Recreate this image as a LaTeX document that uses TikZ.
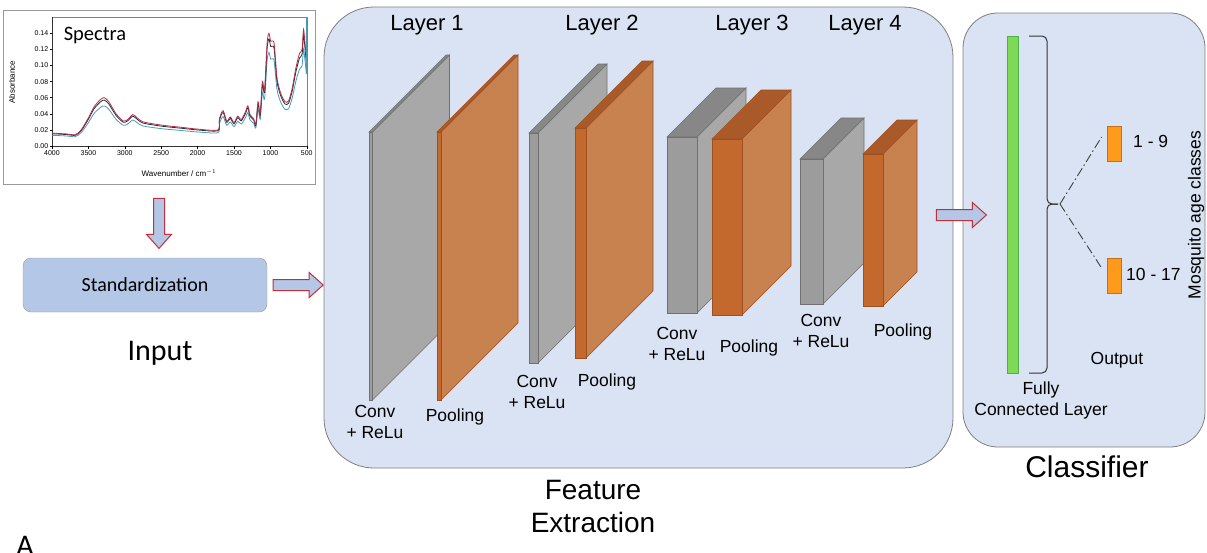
\documentclass[tikz,border=0pt]{standalone}
\usepackage{fontspec}
\setmainfont{Liberation Sans}
\newfontfamily\calib{Carlito}
\usepackage{tikz}
\usetikzlibrary{positioning,calc}
\definecolor{cFeat}{HTML}{DAE3F3}
\definecolor{cStd}{HTML}{B4C7E7}
\definecolor{cFrame}{HTML}{7F7F7F}
\definecolor{cArrow}{HTML}{C0303A}
\definecolor{greyside}{HTML}{A8A8A8}
\definecolor{greyfront}{HTML}{9C9C9C}
\definecolor{greytop}{HTML}{878787}
\definecolor{greyedge}{HTML}{707070}
\definecolor{orangeside}{HTML}{C8824F}
\definecolor{orangefront}{HTML}{C3692D}
\definecolor{orangetop}{HTML}{A95A28}
\definecolor{orangeedge}{HTML}{A0501E}
\definecolor{cGreen}{HTML}{7ED957}
\definecolor{cGreenD}{HTML}{4CAF50}
\definecolor{cOut}{HTML}{FF9A1A}
\definecolor{cOutD}{HTML}{C07020}
\definecolor{cSpRed}{HTML}{B03048}
\definecolor{cSpDark}{HTML}{2A2A35}
\definecolor{cSpBlue}{HTML}{4A9AB8}
\tikzset{
	bigbox/.style={draw=cFrame, fill=cFeat, line width=0.8pt},
	lbl/.style={font=\fontsize{17.5}{21}\selectfont, align=center, inner sep=0pt},
	title/.style={font=\fontsize{22}{26}\selectfont, inner sep=0pt},
	caption/.style={font=\fontsize{28}{33}\selectfont, align=center, inner sep=0pt},
	tick/.style={font=\fontsize{7}{8}\selectfont, inner sep=1pt},
	arrline/.style={draw=cArrow, fill=cStd, line width=1pt, line join=miter},
	dashdot/.style={draw=black!75, line width=0.9pt, dash pattern=on 9pt off 3pt on 1.5pt off 3pt},
	pics/blockarrow/.style={code={
		\draw[arrline] (0,-5.5) -- (36,-5.5) -- (36,-12.5) -- (50,0) -- (36,12.5) -- (36,5.5) -- (0,5.5) -- cycle;}},
}
% one slab of the network: x, top y, front width, height, depth, colour set
\newcommand\slab[6]{%
	\filldraw[fill=#6side, draw=#6edge, line width=0.6pt] (#1+#3,#2) -- ++(#5,-#5) -- ++(0,#4) -- ++(-#5,#5) -- cycle;
	\filldraw[fill=#6top, draw=#6edge, line width=0.6pt] (#1,#2) -- ++(#5,-#5) -- ++(#3,0) -- ++(-#5,#5) -- cycle;
	\filldraw[fill=#6front, draw=#6edge, line width=0.6pt] (#1,#2) rectangle ++(#3,#4);
}

\begin{document}
\begin{tikzpicture}[x=1pt, y=-1pt]
	\useasboundingbox (0,0) rectangle (1207,552);
	% input part
	\node[draw=cFrame!80, fill=white, line width=0.8pt, minimum width=312pt, minimum height=174pt] (spec) at (159,97) {};
	\begin{scope}[shift={(343.2,146)}, x=-0.0728pt, y=805pt]
		\draw[black!50, line width=0.5pt] (4000,0) rectangle (500,0.16);
		\draw[black!80, line width=0.6pt] (4000,0.16) -- (4000,0) -- (500,0);
		\foreach \a in {0.00,0.02,0.04,0.06,0.08,0.10,0.12,0.14}
			\draw[line width=0.5pt] (4000,\a) -- ++(-2.5pt,0) node[tick, anchor=east] (yt\a) {\a};
		\foreach \w in {4000,3500,...,500}
			\draw[line width=0.5pt] (\w,0) -- ++(0,-3pt) node[tick, anchor=north] (xt\w) {\w};
		\foreach \c/\s in {cSpBlue/0.83, cSpDark/0.95, cSpRed/1} {
			\draw[\c, line width=0.8pt, yscale=\s] plot[smooth, tension=0.45] coordinates {
				(4000,0.016) (3800,0.015) (3680,0.014) (3600,0.02) (3500,0.035) (3420,0.049) (3330,0.058) (3280,0.06)
				(3220,0.055) (3120,0.04) (3020,0.031) (2960,0.033) (2890,0.039) (2830,0.035) (2750,0.03) (2500,0.026)
				(2200,0.023) (2000,0.021) (1720,0.02) (1700,0.034) (1650,0.044) (1600,0.031) (1550,0.036) (1500,0.029)
				(1450,0.037) (1400,0.033) (1340,0.043) (1310,0.05) (1280,0.039) (1230,0.034) (1200,0.027) (1170,0.055)
				(1140,0.04) (1110,0.08) (1080,0.07) (1045,0.128) (1020,0.14) (995,0.13) (950,0.128) (910,0.085)
				(860,0.066) (800,0.055) (750,0.056) (700,0.072) (650,0.097) (600,0.115) (565,0.12) (545,0.145)
				(525,0.128) (505,0.108)};
		}
		\draw[cSpBlue, line width=1.2pt] (505,0.09) -- (502,0.16);
	\end{scope}
	\node[font=\calib\fontsize{20.5}{24}\selectfont, inner sep=0pt] (spectxt) at (95,35) {Spectra};
	\node[font=\fontsize{8}{9}\selectfont, rotate=90, inner sep=0pt] (ylab) at (12,82) {Absorbance};
	\node[font=\fontsize{8}{9}\selectfont, inner sep=0pt] (xlab) at (179,173) {Wavenumber / cm$^{-1}$};
	\path (spec.south) ++(0,14) pic[rotate=-90] (a1) {blockarrow};
	\node[draw=cFrame!80, fill=cStd, rounded corners=8pt, minimum width=244pt, minimum height=54pt,
		font=\calib\fontsize{20}{24}\selectfont] (std) at (145,285) {Standardization};
	\path (std.east) ++(6,0) pic (a2) {blockarrow};
	\node[font=\calib\fontsize{30}{36}\selectfont, inner sep=0pt] (inp) at (160,353) {Input};
	\node[font=\calib\fontsize{30}{36}\selectfont, anchor=base, inner sep=0pt] (lblA) at (25,555) {A};
	% feature extraction
	\node[bigbox, rounded corners=50pt, minimum width=629pt, minimum height=461pt] (feat) at (638.5,237.5) {};
	\node[title] (l1) at (427,25) {Layer 1};
	\node[title] (l2) at (602,25) {Layer 2};
	\node[title] (l3) at (752,25) {Layer 3};
	\node[title] (l4) at (865,25) {Layer 4};
	\foreach \x/\y/\w/\h/\d/\c in {369/132/3.5/268/77/grey, 437/132/4/268/77/orange,
		529/133/9/230/69/grey, 575/128/11/230/67/orange,
		667/137/30/176/49/grey, 712/139/30/176/49/orange,
		800/159/23/145/41/grey, 863/154/20/152/34/orange}
		\slab{\x}{\y}{\w}{\h}{\d}{\c};
	\node[lbl] (c1) at (375,422) {Conv\\+ ReLu};
	\node[lbl] (p1) at (455,417) {Pooling};
	\node[lbl] (c2) at (537,392) {Conv\\+ ReLu};
	\node[lbl] (p2) at (607,382) {Pooling};
	\node[lbl] (c3) at (677,344) {Conv\\+ ReLu};
	\node[lbl] (p3) at (749,348) {Pooling};
	\node[lbl] (c4) at (821,331) {Conv\\+ ReLu};
	\node[lbl] (p4) at (903,332) {Pooling};
	\node[caption] (ftxt) at (593,506) {Feature\\Extraction};
	% classifier
	\node[bigbox, rounded corners=35pt, minimum width=242pt, minimum height=434pt] (cls) at (1084,230) {};
	\path (feat.east) ++(-17,-22.5) pic (a3) {blockarrow};
	\node[draw=cGreenD, fill=cGreen, line width=1pt, minimum width=11pt, minimum height=337pt, inner sep=0pt] (fc) at (1012.5,204.5) {};
	\draw[black!80, line width=1pt, rounded corners=5pt] (1029,36) -- (1047,36) -- (1047,204) -- (1058,204);
	\draw[black!80, line width=1pt, rounded corners=5pt] (1058,204) -- (1047,204) -- (1047,373) -- (1029,373);
	\coordinate (bt) at (1060,204);
	\node[draw=cOutD, fill=cOut, line width=0.8pt, minimum width=14pt, minimum height=35pt, inner sep=0pt] (o1) at (1114,143.5) {};
	\node[draw=cOutD, fill=cOut, line width=0.8pt, minimum width=14pt, minimum height=35pt, inner sep=0pt] (o2) at (1114,275.5) {};
	\draw[dashdot] (bt) -- ([xshift=-5pt, yshift=6.5pt]o1.west);
	\draw[dashdot] (bt) -- ([xshift=-5pt, yshift=7.5pt]o2.west);
	\node[lbl, anchor=west] (n1) at (1133,141) {1 - 9};
	\node[lbl, anchor=west] (n2) at (1126,274) {10 - 17};
	\node[lbl, rotate=90] (mac) at (1196,215) {Mosquito age classes};
	\node[lbl] (outp) at (1117,360) {Output};
	\node[lbl] (fcl) at (1041,400) {Fully\\Connected Layer};
	\node[caption, font=\fontsize{30}{34}\selectfont] (ctxt) at (1087,467) {Classifier};
\end{tikzpicture}
\end{document}
